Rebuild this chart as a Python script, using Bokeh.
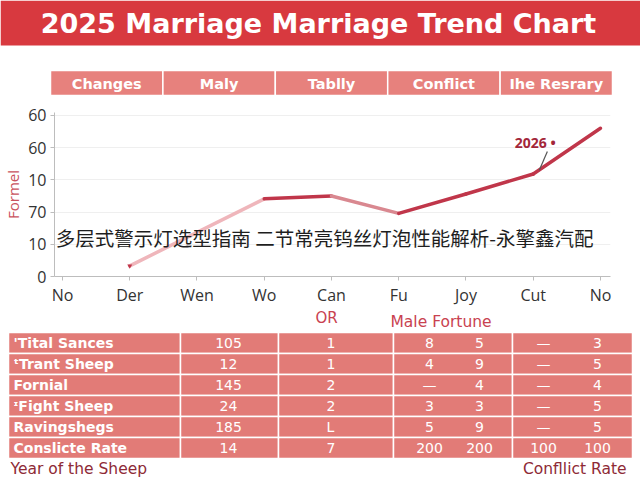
from bokeh.plotting import figure
from bokeh.layouts import column, row
from bokeh.models import Range1d, FixedTicker, Label, ColumnDataSource
from bokeh.core.properties import value
from bokeh.embed import file_html
from bokeh.resources import INLINE

# ---------------- data ----------------
title_text = "2025 Marriage Marriage Trend Chart"
header_labels = ["Changes", "Maly", "Tablly", "Conflict", "Ihe Resrary"]

x_labels = ["No", "Der", "Wen", "Wo", "Can", "Fu", "Joy", "Cut", "No"]
y_tick_labels = ["0", "10", "70", "10", "60", "60"]
line_idx = [1, 3, 4, 5, 6, 7, 8]
line_val = [0.33, 2.41, 2.5, 1.96, 2.56, 3.18, 4.6]
annot_text = "2026 •"
overlay_text = "多层式警示灯选型指南 二节常亮钨丝灯泡性能解析-永擎鑫汽配"

row_labels = ["'Tital Sances", "ᵗTrant Sheep", "Fornial", "ᶦFight Sheep", "Ravingshegs", "Conslicte Rate"]
col_total = ["105", "12", "145", "24", "185", "14"]
col_b = ["1", "1", "2", "2", "L", "7"]
col_c1 = ["8", "4", "—", "3", "5", "200"]
col_c2 = ["5", "9", "4", "3", "9", "200"]
col_d1 = ["—", "—", "—", "—", "—", "100"]
col_d2 = ["3", "5", "4", "5", "5", "100"]

FONT = value("Open Sans")
WIDE = value("DejaVu Sans")
RED = "#d8393f"
CELL = "#e7817d"
TABLE = "#e27b77"
LINE = "#c0364a"
PINK = "#efb6bb"
MAROON = "#8e2a36"

W = 640
HA = 104

def blank(p):
    p.axis.visible = False
    p.grid.visible = False
    p.outline_line_color = None
    p.min_border = 0
    p.min_border_left = 0
    p.min_border_right = 0
    p.min_border_top = 0
    p.min_border_bottom = 0

# ---------------- top: banner + header row ----------------
pa = figure(width=W, height=HA, x_range=Range1d(0, 640), y_range=Range1d(HA, 0),
            output_backend="svg", toolbar_location=None)
blank(pa)
pa.quad(left=[0], right=[640], top=[0], bottom=[45], fill_color=RED, line_color=None)
pa.text(x=[318], y=[23], text=[title_text], text_font=WIDE, text_font_size="27px",
        text_font_style="bold", text_color="white", text_align="center", text_baseline="middle")
n = len(header_labels)
cw = (612 - 50) / n
hl = [50 + cw * i for i in range(n)]
hr = [50 + cw * (i + 1) for i in range(n)]
hc = [(a + b) / 2 for a, b in zip(hl, hr)]
pa.quad(left=hl, right=hr, top=[70] * n, bottom=[95] * n, fill_color=CELL,
        line_color="white", line_width=1.5)
pa.text(x=hc, y=[83] * n, text=header_labels, text_font=WIDE, text_font_size="14.5px",
        text_font_style="bold", text_color="white", text_align="center", text_baseline="middle")

# ---------------- middle: line chart ----------------
pb = figure(width=W, height=308 - HA, x_range=Range1d(-0.119, 8.149), y_range=Range1d(0, 5.09),
            output_backend="svg", toolbar_location=None)
pb.outline_line_color = None
pb.min_border_left = 47
pb.min_border_right = 30
pb.min_border_top = 112 - HA
pb.min_border_bottom = 25
pb.xgrid.visible = False
pb.ygrid.grid_line_color = "#efefef"
pb.ygrid.ticker = FixedTicker(ticks=list(range(len(y_tick_labels))))
pb.yaxis.ticker = FixedTicker(ticks=list(range(len(y_tick_labels))))
pb.yaxis.major_label_overrides = {i: t for i, t in enumerate(y_tick_labels)}
pb.xaxis.ticker = FixedTicker(ticks=list(range(len(x_labels))))
pb.xaxis.major_label_overrides = {i: t for i, t in enumerate(x_labels)}
for ax in (pb.xaxis, pb.yaxis):
    ax.axis_line_color = "#bdbdbd"
    ax.major_tick_line_color = "#bdbdbd"
    ax.minor_tick_line_color = None
    ax.major_tick_in = 0
    ax.major_tick_out = 4
    ax.major_label_text_font = "Open Sans"
    ax.major_label_text_font_size = "16px"
    ax.major_label_text_color = "#333333"
pb.xaxis.major_label_standoff = 3
pb.yaxis.major_label_standoff = 4
pb.yaxis.axis_label = "Formel"
pb.yaxis.axis_label_text_font = "Open Sans"
pb.yaxis.axis_label_text_font_size = "15px"
pb.yaxis.axis_label_text_font_style = "normal"
pb.yaxis.axis_label_text_color = "#c9525e"
pb.yaxis.axis_label_standoff = 2

seg_colors = [PINK, LINE, "#d98890", LINE, LINE, LINE]
seg = ColumnDataSource(dict(x0=line_idx[:-1], y0=line_val[:-1], x1=line_idx[1:], y1=line_val[1:],
                            c=seg_colors))
pb.segment(x0="x0", y0="y0", x1="x1", y1="y1", line_color="c", line_width=3.5,
           line_cap="round", source=seg)
pb.scatter(x=[line_idx[0]], y=[line_val[0]], size=5, marker="triangle", angle=3.14,
           fill_color=LINE, line_color=None)

cut_i = x_labels.index("Cut")
pb.segment(x0=[cut_i + 0.09], y0=[line_val[line_idx.index(cut_i)] + 0.12],
           x1=[cut_i + 0.21], y1=[line_val[line_idx.index(cut_i)] + 0.7],
           line_color="#555555", line_width=1.2)
pb.text(x=[cut_i + 0.03], y=[4.17], text=[annot_text], text_font=FONT, text_font_size="14px",
        text_font_style="bold", text_color="#a3263a", text_align="center", text_baseline="middle")

pb.add_layout(Label(x=-0.1, y=1.22, text=overlay_text, text_font="Noto Sans CJK SC",
                    text_font_size="19.5px", text_color="#1e1e1e", text_baseline="middle"))

# ---------------- bottom: table ----------------
nr = len(row_labels)
pc = figure(width=W, height=172, x_range=Range1d(0, 640), y_range=Range1d(6.548, -1.643),
            output_backend="svg", toolbar_location=None)
blank(pc)
col_edges = [8, 180, 278, 393, 512, 632]
rows = list(range(nr))
for a, b in zip(col_edges[:-1], col_edges[1:]):
    pc.quad(left=[a] * nr, right=[b] * nr, top=[r - 0.5 for r in rows],
            bottom=[r + 0.5 for r in rows], fill_color=TABLE, line_color="white", line_width=1.5)

def col_text(xpos, texts, align="center", bold=False, size="14px"):
    pc.text(x=[xpos] * len(texts), y=rows, text=texts, text_font=WIDE, text_font_size=size,
            text_font_style="bold" if bold else "normal", text_color="white",
            text_align=align, text_baseline="middle")

col_text(13, row_labels, align="left", bold=True, size="14px")
col_text(228, col_total)
col_text(326, col_b, align="left")
col_text(429, col_c1)
col_text(479, col_c2)
col_text(543, col_d1)
col_text(597, col_d2)

pc.text(x=[326], y=[-1.167], text=["OR"], text_font=WIDE, text_font_size="15px",
        text_color="#c94250", text_align="center", text_baseline="middle")
pc.text(x=[390], y=[-1.02], text=["Male Fortune"], text_font=WIDE, text_font_size="15.5px",
        text_color="#c94250", text_align="left", text_baseline="middle")
pc.text(x=[10], y=[6.02], text=["Year of the Sheep"], text_font=WIDE, text_font_size="15.5px",
        text_color=MAROON, text_align="left", text_baseline="middle")
pc.text(x=[626], y=[6.02], text=["Confllict Rate"], text_font=WIDE, text_font_size="15.5px",
        text_color=MAROON, text_align="right", text_baseline="middle")

layout = column(row(pa), row(pb), row(pc), spacing=0)
open("out.html", "w").write(file_html(layout, INLINE))
